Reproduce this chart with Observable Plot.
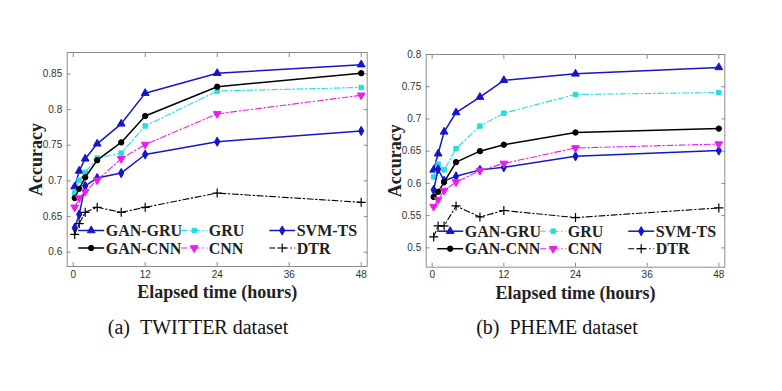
<!DOCTYPE html>
<html><head><meta charset="utf-8">
<script src="https://cdn.jsdelivr.net/npm/d3@7"></script>
<script src="https://cdn.jsdelivr.net/npm/@observablehq/plot@0.6"></script>
<style>
body{margin:0;background:#fff;}
#fig{position:relative;width:782px;height:391px;overflow:hidden;background:#fff;}
#fig svg{position:absolute;top:0;}
.cap{position:absolute;font-family:"Liberation Serif",serif;font-size:20px;color:#111;white-space:nowrap;text-align:center;width:300px;line-height:24px;}
</style></head>
<body><div id="fig"></div>
<script>
// ---------- data ----------
const hours = [0.25, 1, 2, 4, 8, 12, 24, 48];
const models = ["GAN-GRU", "GRU", "SVM-TS", "GAN-CNN", "CNN", "DTR"];
const xTicks = [0, 12, 24, 36, 48];

const twGanGru = [0.692, 0.714, 0.731, 0.752, 0.780, 0.823, 0.851, 0.863];
const twGru    = [0.683, 0.701, 0.712, 0.732, 0.739, 0.777, 0.826, 0.831];
const twSvmTs  = [0.634, 0.653, 0.693, 0.704, 0.711, 0.737, 0.755, 0.770];
const twGanCnn = [0.676, 0.689, 0.705, 0.729, 0.754, 0.791, 0.832, 0.851];
const twCnn    = [0.663, 0.676, 0.685, 0.701, 0.731, 0.751, 0.794, 0.820];
const twDtr    = [0.625, 0.640, 0.656, 0.663, 0.656, 0.663, 0.683, 0.670];
const twYTicks = [0.6, 0.65, 0.7, 0.75, 0.8, 0.85];

const phGanGru = [0.621, 0.646, 0.680, 0.710, 0.734, 0.760, 0.770, 0.780];
const phGru    = [0.610, 0.630, 0.621, 0.654, 0.689, 0.709, 0.738, 0.741];
const phSvmTs  = [0.590, 0.622, 0.604, 0.611, 0.621, 0.625, 0.642, 0.651];
const phGanCnn = [0.579, 0.587, 0.602, 0.633, 0.650, 0.660, 0.679, 0.685];
const phCnn    = [0.564, 0.575, 0.589, 0.602, 0.620, 0.631, 0.655, 0.661];
const phDtr    = [0.517, 0.534, 0.534, 0.565, 0.548, 0.558, 0.547, 0.562];
const phYTicks = [0.5, 0.55, 0.6, 0.65, 0.7, 0.75, 0.8];

// ---------- styles ----------
const BLUE = "#1616c8", CYAN = "#22dede", MAG = "#ea1eea", BLACK = "#000";
const DASHDOT = "6,2.5,1.5,2.5";
const styles = {
  "GAN-GRU": {color: BLUE,  dash: null,    width: 1.5, symbol: "triangle", rotate: 0,   r: 2.9},
  "GRU":     {color: CYAN,  dash: DASHDOT, width: 1.1, symbol: "square",   rotate: 0,   r: 2.5},
  "SVM-TS":  {color: BLUE,  dash: null,    width: 1.5, symbol: "diamond",  rotate: 0,   r: 2.8},
  "GAN-CNN": {color: BLACK, dash: null,    width: 1.5, symbol: "circle",   rotate: 0,   r: 2.7},
  "CNN":     {color: MAG,   dash: DASHDOT, width: 1.1, symbol: "triangle", rotate: 180, r: 2.9},
  "DTR":     {color: BLACK, dash: DASHDOT, width: 1.1, symbol: "plus",     rotate: 0,   r: 3.0}
};
const symbolMap = {triangle: d3.symbolTriangle, square: d3.symbolSquare, diamond: d3.symbolDiamond, circle: d3.symbolCircle, plus: d3.symbolPlus};

function table(series) {
  const rows = [];
  models.forEach((m, i) => series[i].forEach((v, j) => rows.push({model: m, hour: hours[j], acc: v})));
  return rows;
}

function panel({series, yDomain, yTicks, left, width, mL, mR, mT, mB, height}) {
  const data = table(series);
  const marks = [];
  for (const m of models) {
    const s = styles[m];
    const d = data.filter(r => r.model === m);
    marks.push(Plot.line(d, {x: "hour", y: "acc", stroke: s.color, strokeWidth: s.width, strokeDasharray: s.dash}));
    marks.push(Plot.dot(d, {x: "hour", y: "acc", symbol: () => s.symbol, r: s.r, rotate: s.rotate,
      fill: s.symbol === "plus" ? "none" : s.color, stroke: s.color, strokeWidth: s.symbol === "plus" ? 1.2 : 1}));
  }
  const tickTxt = {fontFamily: "Liberation Sans, Arial, sans-serif", fontSize: 10, fill: "#333"};
  const labelTxt = {fontFamily: "Liberation Serif, serif", fontWeight: "bold", fontSize: 18, fill: "#222", textAnchor: "middle", lineAnchor: "middle"};
  const plot = Plot.plot({
    width, height, marginLeft: mL, marginRight: mR, marginTop: mT, marginBottom: mB,
    style: {background: "transparent", overflow: "visible"},
    x: {domain: [-1, 49]},
    y: {domain: yDomain},
    marks: [
      Plot.frame({stroke: "#8c8c8c", strokeWidth: 1}),
      Plot.axisX(xTicks, {anchor: "bottom", tickSize: -4, tickPadding: 8, tickFormat: d => String(d), label: null, stroke: "#8c8c8c", ...tickTxt}),
      Plot.axisX(xTicks, {anchor: "top", tickSize: -4, tickFormat: () => "", label: null, stroke: "#8c8c8c"}),
      Plot.axisY(yTicks, {anchor: "left", tickSize: -4, tickPadding: 9, tickFormat: d => String(d), label: null, stroke: "#8c8c8c", ...tickTxt}),
      Plot.axisY(yTicks, {anchor: "right", tickSize: -4, tickFormat: () => "", label: null, stroke: "#8c8c8c"}),
      ...marks,
      Plot.text(["Elapsed time (hours)"], {frameAnchor: "bottom", dy: 26, text: d => d, ...labelTxt}),
      Plot.text(["Accuracy"], {frameAnchor: "left", dx: -31, rotate: -90, text: d => d, ...labelTxt})
    ]
  });
  plot.style.left = left + "px";
  // legend (2 rows x 3 columns) inside the lower part of the frame
  const svg = d3.select(plot);
  const g = svg.append("g").attr("transform", `translate(${mL},${height - mB})`);
  const colX = [11.5, 114.5, 202.5], rowY = [-35.5, -18];
  models.forEach((m, i) => {
    const s = styles[m];
    const x0 = colX[i % 3], y0 = rowY[Math.floor(i / 3)];
    const e = g.append("g").attr("transform", `translate(${x0},${y0})`);
    e.append("line").attr("x1", 0).attr("x2", 26).attr("y1", 0).attr("y2", 0)
      .attr("stroke", s.color).attr("stroke-width", s.width).attr("stroke-dasharray", s.dash);
    e.append("path").attr("d", d3.symbol(symbolMap[s.symbol], s.r * s.r * Math.PI)())
      .attr("transform", `translate(13,0) rotate(${s.rotate})`)
      .attr("fill", s.symbol === "plus" ? "none" : s.color).attr("stroke", s.color)
      .attr("stroke-width", s.symbol === "plus" ? 1.2 : 1);
    e.append("text").attr("x", 27.5).attr("y", 0).attr("dy", "0.35em").attr("text-anchor", "start").text(m)
      .attr("font-family", "Liberation Serif, serif").attr("font-weight", "bold").attr("font-size", 16).attr("fill", "#222");
  });
  return plot;
}

const fig = document.getElementById("fig");
fig.appendChild(panel({series: [twGanGru, twGru, twSvmTs, twGanCnn, twCnn, twDtr], yDomain: [0.58, 0.88], yTicks: twYTicks,
  left: 0, width: 370, height: 300, mL: 66.7, mR: 3.3, mT: 52, mB: 34}));
fig.appendChild(panel({series: [phGanGru, phGru, phSvmTs, phGanCnn, phCnn, phDtr], yDomain: [0.47, 0.80], yTicks: phYTicks,
  left: 370, width: 412, height: 300, mL: 55.7, mR: 57.7, mT: 54, mB: 33.3}));

const capA = document.createElement("div");
capA.className = "cap"; capA.style.left = (198 - 150) + "px"; capA.style.top = "315px";
capA.textContent = "(a)\u2002TWITTER dataset";
const capB = document.createElement("div");
capB.className = "cap"; capB.style.left = (557 - 150) + "px"; capB.style.top = "315px";
capB.textContent = "(b)\u2002PHEME dataset";
fig.appendChild(capA); fig.appendChild(capB);
</script>
</body></html>
